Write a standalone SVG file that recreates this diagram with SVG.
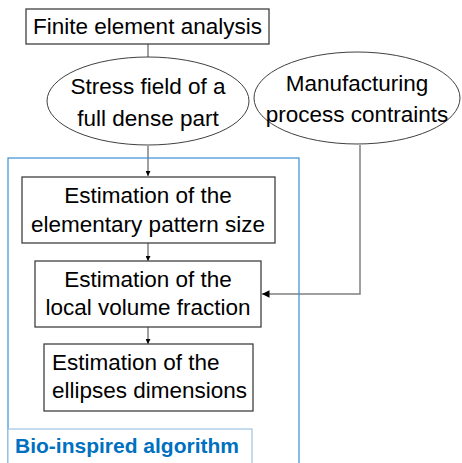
<svg xmlns="http://www.w3.org/2000/svg" width="462" height="463" viewBox="0 0 462 463">
<defs>
<style>
text{font-family:"Liberation Sans",Arial,sans-serif;font-size:22.5px;fill:#000}
.box{fill:#fff;stroke:#404040;stroke-width:1.3}
.ell{fill:#fff;stroke:#404040;stroke-width:1}
.c{fill:none;stroke:#404040;stroke-width:1}
.g{fill:none;stroke:#808080;stroke-width:1.5}
</style>
<marker id="ah" viewBox="0 0 10 10" refX="10" refY="5" markerWidth="5" markerHeight="5" orient="auto"><path d="M0,0L10,5L0,10z" fill="#000"/></marker>
<marker id="ahg" viewBox="0 0 10 10" refX="10" refY="5" markerWidth="5" markerHeight="5" orient="auto"><path d="M0,0L10,5L0,10z" fill="#000"/></marker>
</defs>
<rect x="0" y="0" width="462" height="463" fill="#fff"/>
<g id="connectors">
<line class="c" x1="148" y1="44" x2="148" y2="57"/>
<line class="c" x1="148" y1="146" x2="148" y2="176" marker-end="url(#ah)"/>
<line class="c" x1="148" y1="243" x2="148" y2="261" marker-end="url(#ah)"/>
<line class="c" x1="148" y1="327" x2="148" y2="344" marker-end="url(#ah)"/>
<polyline class="g" points="360,145 360,294 262,294" marker-end="url(#ahg)"/>
</g>
<g id="algorithm">
<rect x="8" y="158" width="291" height="320" fill="none" stroke="#3a8fd6" stroke-width="1.2"/>
<rect x="8" y="429" width="244" height="50" fill="#fff" stroke="#9dc3e6" stroke-width="1.2"/>
<text x="15" y="453" style="font-weight:bold;font-size:21px;fill:#0070c0">Bio-inspired algorithm</text>
</g>
<g id="fea">
<rect class="box" x="26" y="9" width="243" height="35"/>
<text x="147.5" y="34" text-anchor="middle">Finite element analysis</text>
</g>
<g id="stress">
<ellipse class="ell" cx="148" cy="101" rx="101" ry="44"/>
<text x="148" y="94" text-anchor="middle">Stress field of a</text>
<text x="148" y="126" text-anchor="middle">full dense part</text>
</g>
<g id="manufacturing">
<ellipse class="ell" cx="357" cy="98" rx="103" ry="46"/>
<text x="357" y="91" text-anchor="middle">Manufacturing</text>
<text x="357" y="122" text-anchor="middle">process contraints</text>
</g>
<g id="pattern">
<rect class="box" x="22" y="177" width="253" height="66"/>
<text x="148" y="203" text-anchor="middle">Estimation of the</text>
<text x="148" y="232" text-anchor="middle">elementary pattern size</text>
</g>
<g id="volume">
<rect class="box" x="35" y="261" width="226" height="66"/>
<text x="148" y="287" text-anchor="middle">Estimation of the</text>
<text x="148" y="315" text-anchor="middle">local volume fraction</text>
</g>
<g id="ellipses">
<rect class="box" x="44" y="344" width="209" height="67"/>
<text x="52" y="370">Estimation of the</text>
<text x="52" y="398">ellipses dimensions</text>
</g>
</svg>
